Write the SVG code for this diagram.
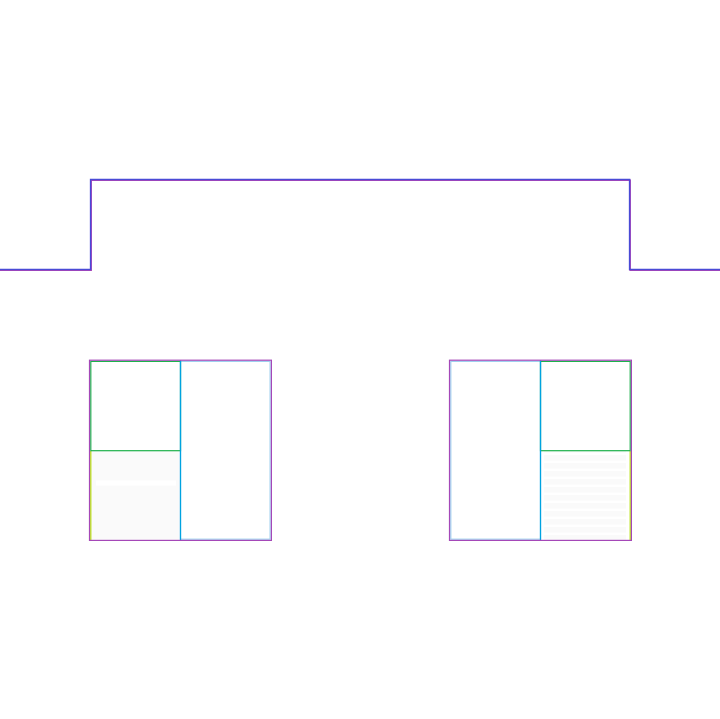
<svg xmlns="http://www.w3.org/2000/svg" width="720" height="719" viewBox="0 0 720 719">
<style>
.outer{fill:none;stroke:#a548b8;stroke-width:1.2}
.green{fill:none;stroke:#1db14b;stroke-width:1.2}
.blue{fill:none;stroke:#00a3e0;stroke-width:1.3}
.lblue{fill:none;stroke:#9fd0ee;stroke-width:1.2}
.yg{fill:none;stroke:#b5e000;stroke-width:1.2}
.wire1{fill:none;stroke:#b545b5;stroke-width:1.5}
.wire2{fill:none;stroke:#4a4ad6;stroke-width:1.5}
</style>
<defs>
<pattern id="stripes" x="0" y="455" width="10" height="8" patternUnits="userSpaceOnUse">
<rect width="10" height="8" fill="#ffffff"/>
<rect width="10" height="5.5" fill="#fafafa"/>
</pattern>
</defs>
<rect width="720" height="719" fill="#ffffff"/>
<g id="wire">
<path class="wire1" d="M0,270.2 H91.2 V180.2 H630.2 V270.2 H720"/>
<path class="wire2" d="M0,269.4 H90.6 V179.4 H629.6 V269.4 H720"/>
</g>
<g id="left-box">
<rect x="91" y="451" width="89" height="89" fill="#fafafa"/>
<rect x="96" y="480.5" width="80" height="5" fill="#ffffff"/>
<rect class="lblue" x="180.5" y="361.4" width="89.6" height="177.8"/>
<path class="yg" d="M90.8,451 V540"/>
<rect class="green" x="90.8" y="361.4" width="89.7" height="89.3"/>
<path class="blue" d="M180.5,360.5 V540"/>
<rect class="outer" x="89.5" y="360.2" width="181.9" height="180.2"/>
</g>
<g id="right-box">
<rect x="541" y="451" width="89" height="89" fill="url(#stripes)"/>
<rect x="541" y="451" width="3" height="89" fill="#ffffff"/>
<rect x="626" y="451" width="3.6" height="89" fill="#ffffff"/>
<rect class="lblue" x="450.8" y="361.4" width="89.7" height="177.8"/>
<path class="yg" d="M630.2,451 V540"/>
<rect class="green" x="540.5" y="361.4" width="89.7" height="89.3"/>
<path class="blue" d="M540.5,360.5 V540"/>
<rect class="outer" x="449.5" y="360.2" width="181.9" height="180.2"/>
</g>
</svg>
